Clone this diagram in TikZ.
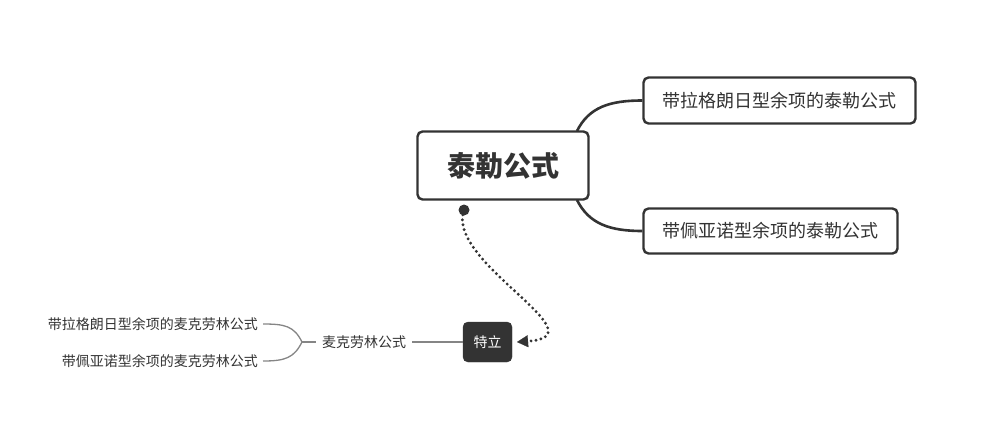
\documentclass[tikz,border=0pt]{standalone}
\usepackage{fontspec}
\newfontfamily\cjk{Noto Sans CJK SC}
\usetikzlibrary{arrows.meta, positioning, calc}
\definecolor{ink}{HTML}{333333}
\definecolor{twig}{HTML}{858585}

\begin{document}
\begin{tikzpicture}[x=1pt, y=-1pt,
        topic/.style={draw=ink, line width=2.4pt, rounded corners=5pt, fill=white, text=ink, font=\cjk\fontsize{18}{21}\selectfont},
        leaf/.style={text=ink, inner sep=2pt, font=\cjk\fontsize{14}{16}\selectfont},
        branch/.style={draw=ink, line width=2.6pt},
        twigline/.style={draw=twig, line width=1.3pt}]
        \useasboundingbox (0,0) rectangle (981,434);

        % Central topic
        \node[topic, minimum width=171pt, minimum height=68pt, font=\cjk\bfseries\fontsize{28}{32}\selectfont] (root) at (503,165.5) {泰勒公式};

        % Subtopics
        \node[topic, minimum width=272pt, minimum height=46pt] (lagrange) at (779.5,100.5) {带拉格朗日型余项的泰勒公式};
        \node[topic, minimum width=254pt, minimum height=45pt] (peano) at (770.5,231) {带佩亚诺型余项的泰勒公式};
        \coordinate (rootup) at (577,131);
        \coordinate (rootdown) at (577,200);
        \draw[branch] (rootup) .. controls (589,107) and (610,100.5) .. (lagrange.west);
        \draw[branch] (rootdown) .. controls (589,224) and (610,231) .. (peano.west);

        % Floating topic
        \node[draw=ink, fill=ink, rounded corners=5pt, minimum width=49pt, minimum height=40pt, text=white, font=\cjk\fontsize{14}{16}\selectfont] (special) at (487.5,342) {特立};
        \node[leaf] (maclaurin) at (364,342) {麦克劳林公式};
        \node[leaf, anchor=east] (mlagrange) at (260,324) {带拉格朗日型余项的麦克劳林公式};
        \node[leaf, anchor=east] (mpeano) at (260,361) {带佩亚诺型余项的麦克劳林公式};
        \coordinate (fork) at (302,342);
        \draw[twigline] (special.west) -- ($(maclaurin.east)+(4,0)$);
        \draw[twigline] ($(maclaurin.west)+(-4,0)$) -- (fork);
        \draw[twigline] (fork) .. controls (294,326) and (285,324) .. ($(mlagrange.east)+(3,0)$);
        \draw[twigline] (fork) .. controls (294,358) and (285,361) .. ($(mpeano.east)+(3,0)$);

        % Relationship
        \coordinate (relstart) at (464,210);
        \coordinate (relend) at (517,342);
        \fill[ink] (relstart) circle (5.5pt);
        \draw[ink, line width=3.2pt, line cap=round, dash pattern=on 0pt off 5pt, -{Triangle[length=11pt, width=12pt, line width=0.1pt]}]
            (relstart) .. controls (445,262) and (603,336) .. (relend);
    \end{tikzpicture}
\end{document}
